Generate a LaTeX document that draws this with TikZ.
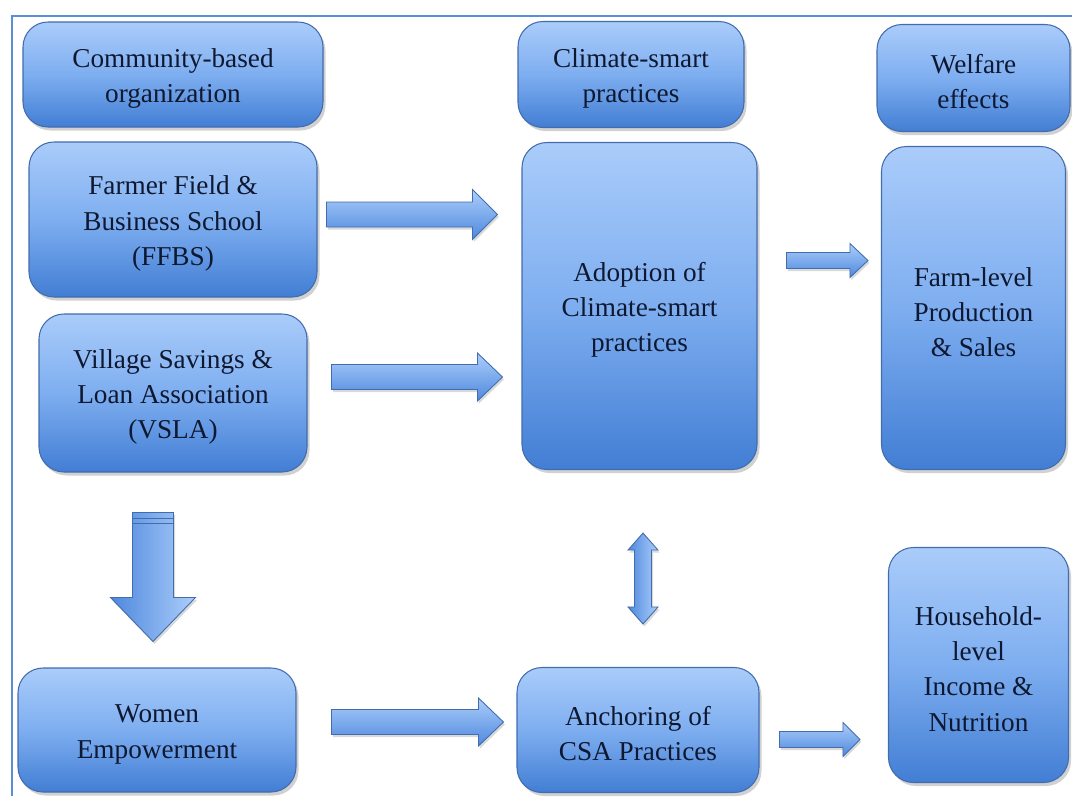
\documentclass[tikz,border=0pt]{standalone}
\usepackage{fontspec}
\setmainfont{Liberation Serif}
\usepackage{tikz}
\usetikzlibrary{calc}
\usetikzlibrary{positioning}
\usetikzlibrary{shadows}

\definecolor{boxtop}{RGB}{170,204,250}
\definecolor{boxmid}{RGB}{126,174,240}
\definecolor{boxbot}{RGB}{66,126,212}
\definecolor{boxline}{RGB}{66,108,172}
\definecolor{arrlight}{RGB}{172,206,250}
\definecolor{arrdark}{RGB}{78,136,222}
\definecolor{framecol}{RGB}{92,142,214}
\definecolor{textcol}{RGB}{14,24,48}

% extra height on the first text line, pushes the text a little lower
\newcommand{\boxstrut}{\rule{0pt}{15.3pt}}

% fat arrow: [shading] from, to, shaft half width, head half width, head length
\newcommand{\fatarrow}[6][]{%
  \coordinate (hb) at ($(#3)!#6!(#2)$);
  \path[blockarrow,#1] ($(#2)!#4!90:(#3)$) -- ($(hb)!#4!-90:(#2)$) -- ($(hb)!#5!-90:(#2)$) -- (#3)
    -- ($(hb)!#5!90:(#2)$) -- ($(hb)!#4!90:(#2)$) -- ($(#2)!#4!-90:(#3)$) -- cycle;
}
% two-headed fat arrow
\newcommand{\dblarrow}[6][]{%
  \coordinate (hbA) at ($(#2)!#6!(#3)$);
  \coordinate (hbB) at ($(#3)!#6!(#2)$);
  \path[blockarrow,#1] (#2) -- ($(hbA)!#5!90:(#3)$) -- ($(hbA)!#4!90:(#3)$) -- ($(hbB)!#4!-90:(#2)$)
    -- ($(hbB)!#5!-90:(#2)$) -- (#3) -- ($(hbB)!#5!90:(#2)$) -- ($(hbB)!#4!90:(#2)$)
    -- ($(hbA)!#4!-90:(#3)$) -- ($(hbA)!#5!-90:(#3)$) -- cycle;
}

\begin{document}
\begin{tikzpicture}[node distance=1cm, on grid,
      box/.style={draw=boxline, line width=0.6pt, rounded corners=0.5cm, inner sep=0pt,
        top color=boxtop, bottom color=boxbot, middle color=boxmid,
        align=center, text=textcol, font=\fontsize{15.5}{20}\selectfont,
        drop shadow={shadow xshift=0.05cm, shadow yshift=-0.07cm, opacity=0.3, fill=black!60}},
      blockarrow/.style={draw=boxline, line width=0.5pt, top color=arrlight, bottom color=arrdark,
        drop shadow={shadow xshift=0.03cm, shadow yshift=-0.05cm, opacity=0.25, fill=black!60}},
      vshade/.style={left color=arrdark, right color=arrlight}]

      \useasboundingbox (0,0) rectangle (21.44,-15.92);
      \draw[framecol, line width=0.9pt] (21.44,-0.32) -- (0.24,-0.32) -- (0.24,-15.92);

      % left column
      \node[box, minimum width=6.00cm, minimum height=2.10cm] (cbo) at (3.46,-1.49) {\boxstrut Community-based\\organization};
      \node[box, minimum width=5.76cm, minimum height=3.10cm] (ffbs) [below=2.90cm of cbo] {\boxstrut Farmer Field \&\\Business School\\(FFBS)};
      \node[box, minimum width=5.36cm, minimum height=3.16cm] (vsla) [below=3.47cm of ffbs] {\boxstrut Village Savings \&\\Loan Association\\(VSLA)};
      \node[box, minimum width=5.56cm, minimum height=2.48cm] (women) [below=6.74cm of vsla, xshift=-0.32cm] {\boxstrut Women\\Empowerment};

      % middle column
      \node[box, minimum width=4.52cm, minimum height=2.12cm] (csp) [right=9.16cm of cbo] {\boxstrut Climate-smart\\practices};
      \node[box, minimum width=4.70cm, minimum height=6.54cm] (adopt) [below=4.63cm of csp, xshift=0.17cm] {\boxstrut Adoption of\\Climate-smart\\practices};
      \node[box, minimum width=4.84cm, minimum height=2.50cm] (anchor) [right=9.62cm of women] {\boxstrut Anchoring of\\CSA Practices};

      % right column
      \node[box, minimum width=3.86cm, minimum height=2.14cm] (welfare) [right=6.85cm of csp, yshift=-0.07cm] {\boxstrut Welfare\\effects};
      \node[box, minimum width=3.68cm, minimum height=6.46cm] (farm) [below=4.60cm of welfare] {\boxstrut Farm-level\\Production\\\& Sales};
      \node[box, minimum width=3.60cm, minimum height=4.70cm] (household) [below=7.14cm of farm, xshift=0.10cm] {\boxstrut Household-\\level\\Income \&\\Nutrition};

      % arrow ends
      \coordinate (a1s) at ([shift={(0.18,0.10)}]ffbs.east);
      \coordinate (a1e) at ([xshift=-0.48cm]a1s -| adopt.west);
      \coordinate (a2s) at ([shift={(0.48,0.32)}]vsla.east);
      \coordinate (a2e) at ([xshift=-0.38cm]a2s -| adopt.west);
      \coordinate (a3s) at ([shift={(0.58,0.91)}]adopt.east);
      \coordinate (a3e) at ([xshift=-0.26cm]a3s -| farm.west);
      \coordinate (a4s) at ([shift={(0.70,0.16)}]women.east);
      \coordinate (a4e) at ([xshift=-0.26cm]a4s -| anchor.west);
      \coordinate (a5s) at ([shift={(0.40,-0.19)}]anchor.east);
      \coordinate (a5e) at ([xshift=-0.56cm]a5s -| household.west);
      \coordinate (dns) at ([shift={(-0.40,-0.80)}]vsla.south);
      \coordinate (dne) at ([yshift=0.52cm]dns |- women.north);
      \coordinate (dbs) at ([shift={(0.07,-1.26)}]adopt.south);
      \coordinate (dbe) at ([yshift=0.86cm]dbs |- anchor.north);

      \fatarrow{a1s}{a1e}{0.25cm}{0.50cm}{0.50cm}
      \fatarrow{a2s}{a2e}{0.25cm}{0.48cm}{0.50cm}
      \fatarrow{a3s}{a3e}{0.16cm}{0.34cm}{0.36cm}
      \fatarrow{a4s}{a4e}{0.25cm}{0.48cm}{0.50cm}
      \fatarrow{a5s}{a5e}{0.16cm}{0.34cm}{0.34cm}
      \fatarrow[vshade]{dns}{dne}{0.41cm}{0.85cm}{0.88cm}
      \draw[boxline, line width=0.5pt] ([shift={(-0.41,-0.12)}]dns) -- ([shift={(0.41,-0.12)}]dns)
        ([shift={(-0.41,-0.22)}]dns) -- ([shift={(0.41,-0.22)}]dns);
      \dblarrow[vshade]{dbs}{dbe}{0.17cm}{0.30cm}{0.34cm}

\end{tikzpicture}
\end{document}
